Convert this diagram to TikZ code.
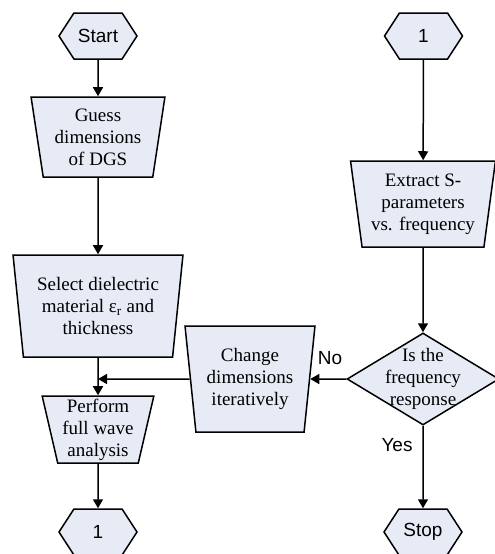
\documentclass[tikz,border=0pt]{standalone}
\usepackage{fontspec}
\setmainfont{Liberation Serif}
\newfontfamily\arialfont{Liberation Sans}
\usetikzlibrary{shapes.geometric}
\usetikzlibrary{shapes.symbols}
\usetikzlibrary{arrows.meta}

\definecolor{boxfill}{RGB}{230,235,245}

\tikzset{
  terminal/.style={signal, signal to=west and east, signal pointer angle=114,
    draw, line width=1.5pt, fill=boxfill, inner sep=0pt,
    minimum width=78pt, minimum height=46pt, font=\arialfont\fontsize{19}{22}\selectfont},
  process/.style={trapezium, trapezium stretches=true, shape border rotate=180,
    draw, line width=1.5pt, fill=boxfill, inner sep=0pt, align=center,
    font=\fontsize{19}{22}\selectfont},
  decision/.style={diamond, draw, line width=1.5pt, fill=boxfill, inner sep=0pt,
    minimum width=152pt, minimum height=92pt, font=\fontsize{19}{22}\selectfont},
  flow/.style={line width=1.5pt, -{Triangle[length=9pt,width=10pt]}},
  tag/.style={font=\arialfont\fontsize{19}{22}\selectfont}
}

\begin{document}
\begin{tikzpicture}[x=1pt,y=-1pt]
                \useasboundingbox (0,0) rectangle (495,554);

                \node[terminal] (start) at (98,36) {Start};
                \node[process, minimum width=134pt, minimum height=80pt, trapezium angle=80.4] (guess) at (98,137) {Guess\\dimensions\\of DGS};
                \node[process, minimum width=170pt, minimum height=102pt, trapezium angle=81.6] (select) at (98,306) {Select dielectric\\material ε\textsubscript{r} and\\thickness};
                \node[process, minimum width=112pt, minimum height=67pt, trapezium angle=77.4] (perform) at (98,429.5) {Perform\\full wave\\analysis};
                \node[terminal] (out1) at (98,532) {1};
                \coordinate (merge) at (98,379);

                \node[terminal] (in1) at (423.5,36) {1};
                \node[process, minimum width=145pt, minimum height=86pt, trapezium angle=80.8] (extract) at (423,204) {Extract S-\\parameters\\vs. frequency};
                \node[decision] (test) at (423,379) {\smash{\makebox[0pt]{\raisebox{-4pt}{\begin{tabular}{@{}c@{}}Is the\\frequency\\response\end{tabular}}}}};
                \node[process, minimum width=130pt, minimum height=106pt, trapezium angle=81.9] (change) at (250,379) {Change\\dimensions\\iteratively};
                \node[terminal] (stop) at (423,532) {Stop};

                \draw[flow] (start)--(guess);
                \draw[flow] (guess)--(select);
                \draw[flow] (select)--(perform);
                \draw[flow] (perform)--(out1);
                \draw[flow] (in1)--(extract);
                \draw[flow] (extract)--(test);
                \draw[flow] (test.west)--(change.east);
                \draw[flow] (change.west)--(merge);
                \draw[flow] (test.south)--(stop);

                \node[tag] at (330,358) {No};
                \node[tag] at (397,445) {Yes};
            \end{tikzpicture}
\end{document}
